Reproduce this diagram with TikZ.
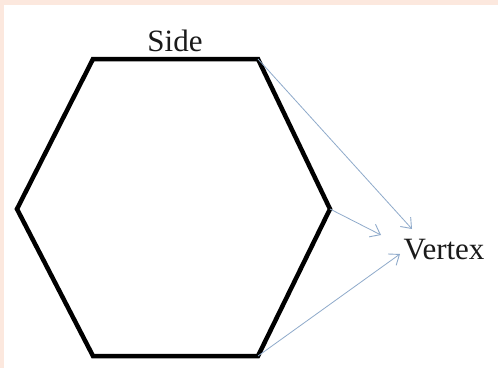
\documentclass[tikz,border=0pt]{standalone}
\usepackage{fontspec}
\setmainfont{Liberation Serif}
\usetikzlibrary{arrows.meta}
\definecolor{peach}{HTML}{FCE8DE}
\definecolor{arrowblue}{HTML}{8FAACB}
\definecolor{txt}{HTML}{1A1A1A}
\tikzset{
  hexline/.style={line width=4.5pt, line join=miter, black},
  ptr/.style={draw=arrowblue, line width=0.8pt, -{Straight Barb[length=9pt,width=14pt,line width=0.9pt]}},
  lbl/.style={font=\fontsize{31}{36}\selectfont, text=txt, inner sep=0pt}
}
\begin{document}
\begin{tikzpicture}[x=1pt,y=-1pt]
\fill[peach] (0,0) rectangle (498,368);
\fill[white] (4,5) rectangle (498,368);
\useasboundingbox (0,0) rectangle (498,368);
\coordinate (tl) at (93,59);
\coordinate (tr) at (258,59);
\coordinate (r) at (330,209);
\coordinate (br) at (258,356);
\coordinate (bl) at (93,356);
\coordinate (l) at (17,209);
\draw[hexline] (tl) -- (tr) -- (r) -- (br) -- (bl) -- (l) -- cycle;
\node[lbl] (side) at (175,41) {Side};
\node[lbl] (vtx) at (444,250) {Vertex};
\coordinate (t1) at (412,229);
\coordinate (t2) at (381,235);
\coordinate (t3) at (400,254);
\draw[ptr] (tr) -- (t1);
\draw[ptr] (r) -- (t2);
\draw[ptr] (br) -- (t3);
\end{tikzpicture}
\end{document}
